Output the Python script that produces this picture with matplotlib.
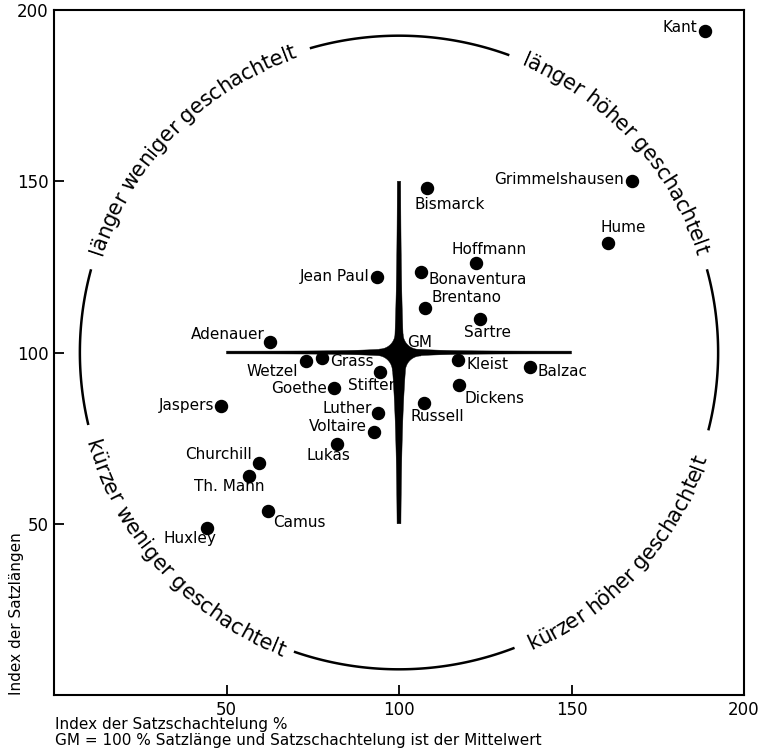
import numpy as np
import matplotlib
matplotlib.use('Agg')
import matplotlib.pyplot as plt
from matplotlib.font_manager import FontProperties
from matplotlib.transforms import IdentityTransform

# Autoren: Index der Satzschachtelung (x) und der Satzlaengen (y)
names = ['Kant', 'Grimmelshausen', 'Hume', 'Bismarck', 'Hoffmann', 'Bonaventura',
         'Jean Paul', 'Brentano', 'Sartre', 'Adenauer', 'Grass', 'Wetzel', 'Kleist',
         'Balzac', 'Stifter', 'Dickens', 'Goethe', 'Russell', 'Jaspers', 'Luther',
         'Voltaire', 'Lukas', 'Churchill', 'Th. Mann', 'Camus', 'Huxley']
schachtelung = [188.7, 167.5, 160.6, 108.1, 122.3, 106.4, 93.6, 107.5, 123.5, 62.6,
                77.7, 73.0, 117.1, 138.0, 94.5, 117.4, 81.2, 107.2, 48.4, 93.9,
                92.8, 82.0, 59.4, 56.5, 62.0, 44.3]
laenge = [193.9, 150.0, 131.9, 148.0, 126.0, 123.4, 121.9, 112.9, 109.9, 103.2,
          98.5, 97.4, 97.7, 95.9, 94.4, 90.6, 89.5, 85.4, 84.5, 82.2,
          76.9, 73.4, 67.8, 64.0, 53.8, 48.8]
ticks = [50, 100, 150, 200]
quadrant_texts = ['länger weniger geschachtelt', 'länger höher geschachtelt',
                  'kürzer weniger geschachtelt', 'kürzer höher geschachtelt']

# label placement in pixels (dx, dy up, ha)
label_pos = {
    'Kant': (-8, 3, 'right'), 'Grimmelshausen': (-8, 2, 'right'),
    'Hume': (15, 16, 'center'), 'Bismarck': (23, -16, 'center'),
    'Hoffmann': (13, 14, 'center'), 'Bonaventura': (7, -7, 'left'),
    'Jean Paul': (-7, 1, 'right'), 'Brentano': (7, 11, 'left'),
    'Sartre': (7, -14, 'center'), 'Adenauer': (-5, 7, 'right'),
    'Grass': (8, -4, 'left'), 'Wetzel': (-8, -10, 'right'),
    'Kleist': (9, -4, 'left'), 'Balzac': (7, -5, 'left'),
    'Stifter': (-9, -14, 'center'), 'Dickens': (5, -14, 'left'),
    'Goethe': (-7, 0, 'right'), 'Russell': (13, -14, 'center'),
    'Jaspers': (-7, 0, 'right'), 'Luther': (-6, 5, 'right'),
    'Voltaire': (-7, 5, 'right'), 'Lukas': (-8, -12, 'center'),
    'Churchill': (-7, 8, 'right'), 'Th. Mann': (-20, -11, 'center'),
    'Camus': (5, -12, 'left'), 'Huxley': (-17, -11, 'center'),
}

DPI = 100
PT = 72 / DPI
fig = plt.figure(figsize=(7.66, 7.54), dpi=DPI)
ax = fig.add_axes([54 / 766, 59 / 754, 690 / 766, 685 / 754])
ax.set_xlim(0, 200)
ax.set_ylim(0, 200)
for s in ax.spines.values():
    s.set_linewidth(1.5)
ax.set_xticks(ticks)
ax.set_yticks(ticks)
ax.tick_params(direction='in', length=7, width=1.3, labelsize=12, pad=4)
ax.set_xticklabels(['50', '100', '150', '200'])
ax.set_yticklabels(['50', '100', '150', '200'])

ax.scatter(schachtelung, laenge, s=75, color='black', zorder=3)
for n, x, y in zip(names, schachtelung, laenge):
    dx, dy, ha = label_pos[n]
    ax.annotate(n, (x, y), xytext=(dx * PT, dy * PT), textcoords='offset points',
                ha=ha, va='center', fontsize=11)

# cross at GM, arms taper away from the centre
C = np.array([100.0, 100.0])
L = 50.0
r = 4.5
# direction, end half-width, flare, flare length
arms = [((1, 0), 0.4, 1.0, 9), ((0, 1), 0.4, 1.0, 20),
        ((-1, 0), 0.4, 1.0, 9), ((0, -1), 0.4, 1.9, 20)]

def hw(k, d):
    _, a, b, tau = arms[k]
    return a + b * np.exp(-d / tau)

pts = []
for k in range(4):
    u = np.array(arms[k][0], float)
    nvec = np.array([-u[1], u[0]])
    kp = (k - 1) % 4
    kn = (k + 1) % 4
    d0 = hw(kp, r) + r
    d1 = hw(kn, r) + r
    for d in np.linspace(d0, L, 40):
        pts.append(C + u * d - nvec * hw(k, d))
    for d in np.linspace(L, d1, 40):
        pts.append(C + u * d + nvec * hw(k, d))
    un = np.array(arms[kn][0], float)
    c = C + u * d1 + un * (hw(k, d1) + r)
    a1 = np.arctan2(-un[1], -un[0])
    for a in np.linspace(a1, a1 - np.pi / 2, 15):
        pts.append(c + r * np.array([np.cos(a), np.sin(a)]))
ax.fill(*np.array(pts).T, color='black', lw=0.3, zorder=2)
ax.annotate('GM', (100, 100), xytext=(8 * PT, 10 * PT), textcoords='offset points',
            ha='left', va='center', fontsize=11)

# circle arcs
R = 92.5
arc_ranges = [(-14, 15), (70, 106), (165, 193), (251, 291)]
for a0, a1 in arc_ranges:
    t = np.radians(np.linspace(a0, a1, 100))
    ax.plot(100 + R * np.cos(t), 100 + R * np.sin(t), color='black', lw=1.8)

# curved text along the circle
fig.canvas.draw()
renderer = fig.canvas.get_renderer()
cx, cy = ax.transData.transform((100, 100))
Rpx = ax.transData.transform((100 + R, 100))[0] - cx
fp = FontProperties(size=15)
em = 15 / PT

def curved(text, a_start, a_end, clockwise):
    widths = [renderer.get_text_width_height_descent(ch if ch != ' ' else 'n', fp, ismath=False)[0]
              * (0.5 if ch == ' ' else 1.0) for ch in text]
    widths = np.array(widths)
    span = np.radians(abs(a_end - a_start))
    scale = span * Rpx / widths.sum()
    cum = np.cumsum(widths * scale) - widths * scale / 2
    a0 = np.radians(a_start)
    for ch, c in zip(text, cum):
        if clockwise:
            th = a0 - c / Rpx
            rr = Rpx - 0.33 * em
            rot = np.degrees(th) - 90
        else:
            th = a0 + c / Rpx
            rr = Rpx + 0.33 * em
            rot = np.degrees(th) + 90
        fig.text(cx + rr * np.cos(th), cy + rr * np.sin(th), ch, transform=IdentityTransform(),
                 fontproperties=fp, rotation=rot, rotation_mode='anchor',
                 ha='center', va='baseline')

curved(quadrant_texts[0], 162, 109, True)
curved(quadrant_texts[1], 67, 18, True)
curved(quadrant_texts[2], 196, 249, False)
curved(quadrant_texts[3], 294, 341, False)

fig.text(17 / 766, 1 - 695 / 754, 'Index der Satzlängen', rotation=90,
         ha='center', va='bottom', fontsize=11)
fig.text(55 / 766, 1 - 725 / 754, 'Index der Satzschachtelung %', ha='left', va='center', fontsize=11)
fig.text(55 / 766, 1 - 741 / 754, 'GM = 100 % Satzlänge und Satzschachtelung ist der Mittelwert',
         ha='left', va='center', fontsize=11)

fig.savefig('out.png', dpi=DPI)
